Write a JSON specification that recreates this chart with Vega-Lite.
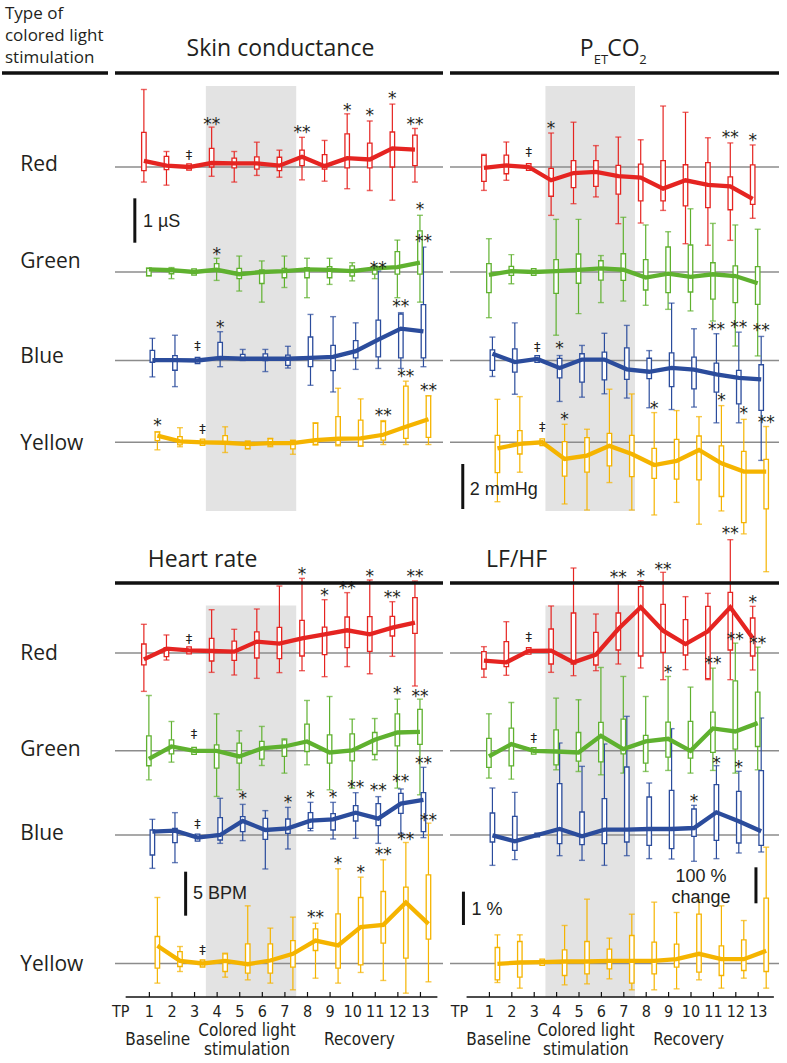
{
"$schema": "https://vega.github.io/schema/vega-lite/v6.json",
"padding": 0,
"background": "white",
"config": {"view": {"stroke": null}, "axis": {"grid": false}},
"datasets": {
"sc": [
{"s":"Red","tp":1,"lo":-0.34,"q1":-0.08,"q3":0.78,"hi":1.75,"m":0.14},
{"s":"Red","tp":2,"lo":-0.41,"q1":-0.06,"q3":0.24,"hi":0.35,"m":0.03},
{"s":"Red","tp":3,"lo":-0.07,"q1":-0.07,"q3":0.07,"hi":0.07,"m":0},
{"s":"Red","tp":4,"lo":-0.21,"q1":0,"q3":0.42,"hi":0.9,"m":0.09},
{"s":"Red","tp":5,"lo":-0.34,"q1":-0.02,"q3":0.2,"hi":0.35,"m":0.08},
{"s":"Red","tp":6,"lo":-0.19,"q1":-0.05,"q3":0.23,"hi":0.56,"m":0.08},
{"s":"Red","tp":7,"lo":-0.23,"q1":-0.08,"q3":0.22,"hi":0.38,"m":0.03},
{"s":"Red","tp":8,"lo":-0.29,"q1":0.03,"q3":0.38,"hi":0.67,"m":0.23},
{"s":"Red","tp":9,"lo":-0.32,"q1":-0.05,"q3":0.28,"hi":0.6,"m":0.02},
{"s":"Red","tp":10,"lo":-0.49,"q1":-0.02,"q3":0.75,"hi":1.2,"m":0.2},
{"s":"Red","tp":11,"lo":-0.53,"q1":-0.02,"q3":0.54,"hi":1.04,"m":0.17},
{"s":"Red","tp":12,"lo":-0.75,"q1":0,"q3":0.79,"hi":1.42,"m":0.42},
{"s":"Red","tp":13,"lo":-0.34,"q1":0.03,"q3":0.72,"hi":0.87,"m":0.39},
{"s":"Green","tp":1,"lo":-0.09,"q1":-0.08,"q3":0.08,"hi":0.09,"m":0.06},
{"s":"Green","tp":2,"lo":-0.15,"q1":-0.04,"q3":0.08,"hi":0.1,"m":0.04},
{"s":"Green","tp":3,"lo":-0.07,"q1":-0.07,"q3":0.07,"hi":0.07,"m":0},
{"s":"Green","tp":4,"lo":-0.19,"q1":0.05,"q3":0.19,"hi":0.31,"m":0.05},
{"s":"Green","tp":5,"lo":-0.43,"q1":-0.15,"q3":0.08,"hi":0.36,"m":-0.05},
{"s":"Green","tp":6,"lo":-0.68,"q1":-0.26,"q3":0.05,"hi":0.25,"m":0},
{"s":"Green","tp":7,"lo":-0.35,"q1":-0.13,"q3":0.08,"hi":0.36,"m":0.02},
{"s":"Green","tp":8,"lo":-0.58,"q1":-0.13,"q3":0.1,"hi":0.31,"m":0.06},
{"s":"Green","tp":9,"lo":-0.28,"q1":-0.13,"q3":0.12,"hi":0.31,"m":0.05},
{"s":"Green","tp":10,"lo":-0.2,"q1":-0.09,"q3":0.14,"hi":0.21,"m":0.02},
{"s":"Green","tp":11,"lo":-0.15,"q1":-0.05,"q3":0.05,"hi":0.14,"m":0.08},
{"s":"Green","tp":12,"lo":-0.58,"q1":-0.05,"q3":0.46,"hi":0.72,"m":0.11},
{"s":"Green","tp":13,"lo":-0.68,"q1":-0.05,"q3":0.93,"hi":1.28,"m":0.21},
{"s":"Blue","tp":1,"lo":-0.37,"q1":-0.04,"q3":0.23,"hi":0.5,"m":0.01},
{"s":"Blue","tp":2,"lo":-0.59,"q1":-0.22,"q3":0.11,"hi":0.57,"m":0.01},
{"s":"Blue","tp":3,"lo":-0.07,"q1":-0.07,"q3":0.07,"hi":0.07,"m":0},
{"s":"Blue","tp":4,"lo":-0.14,"q1":0.02,"q3":0.41,"hi":0.65,"m":0.06},
{"s":"Blue","tp":5,"lo":0,"q1":0.02,"q3":0.14,"hi":0.25,"m":0.04},
{"s":"Blue","tp":6,"lo":-0.25,"q1":0,"q3":0.15,"hi":0.25,"m":0.04},
{"s":"Blue","tp":7,"lo":-0.17,"q1":-0.11,"q3":0.12,"hi":0.32,"m":0.04},
{"s":"Blue","tp":8,"lo":-0.56,"q1":-0.14,"q3":0.53,"hi":1.04,"m":0.06},
{"s":"Blue","tp":9,"lo":-0.71,"q1":-0.23,"q3":0.34,"hi":0.99,"m":0.08},
{"s":"Blue","tp":10,"lo":-0.2,"q1":0.06,"q3":0.45,"hi":0.85,"m":0.21},
{"s":"Blue","tp":11,"lo":-0.18,"q1":0.08,"q3":0.91,"hi":2.02,"m":0.47},
{"s":"Blue","tp":12,"lo":-0.18,"q1":0.06,"q3":1.05,"hi":1.08,"m":0.72},
{"s":"Blue","tp":13,"lo":-0.14,"q1":0.06,"q3":1.26,"hi":2.56,"m":0.66},
{"s":"Yellow","tp":1,"lo":-0.17,"q1":0.04,"q3":0.23,"hi":0.24,"m":0.15},
{"s":"Yellow","tp":2,"lo":-0.1,"q1":-0.06,"q3":0.13,"hi":0.33,"m":0.02},
{"s":"Yellow","tp":3,"lo":-0.07,"q1":-0.07,"q3":0.07,"hi":0.07,"m":0},
{"s":"Yellow","tp":4,"lo":-0.23,"q1":-0.04,"q3":0.15,"hi":0.35,"m":-0.01},
{"s":"Yellow","tp":5,"lo":-0.15,"q1":-0.14,"q3":0.02,"hi":0.03,"m":-0.04},
{"s":"Yellow","tp":6,"lo":-0.1,"q1":-0.08,"q3":0.08,"hi":0.09,"m":-0.02},
{"s":"Yellow","tp":7,"lo":-0.27,"q1":-0.15,"q3":0.04,"hi":0.05,"m":-0.02},
{"s":"Yellow","tp":8,"lo":-0.06,"q1":-0.05,"q3":0.43,"hi":0.44,"m":0.05},
{"s":"Yellow","tp":9,"lo":-0.08,"q1":-0.06,"q3":0.58,"hi":1.22,"m":0.08},
{"s":"Yellow","tp":10,"lo":-0.09,"q1":-0.08,"q3":0.5,"hi":0.98,"m":0.09},
{"s":"Yellow","tp":11,"lo":-0.05,"q1":0.05,"q3":0.47,"hi":0.49,"m":0.17},
{"s":"Yellow","tp":12,"lo":-0.05,"q1":0.09,"q3":1.27,"hi":1.38,"m":0.35},
{"s":"Yellow","tp":13,"lo":-0.05,"q1":0.11,"q3":1.05,"hi":1.05,"m":0.52}
],
"scA": [
{"s":"Red","tp":3,"t":"‡","y":0.26},
{"s":"Red","tp":4,"t":"**","y":1.05},
{"s":"Red","tp":8,"t":"**","y":0.87},
{"s":"Red","tp":10,"t":"*","y":1.37},
{"s":"Red","tp":11,"t":"*","y":1.26},
{"s":"Red","tp":12,"t":"*","y":1.63},
{"s":"Red","tp":13,"t":"**","y":1.04},
{"s":"Green","tp":4,"t":"*","y":0.49},
{"s":"Green","tp":13,"t":"*","y":1.49},
{"s":"Blue","tp":3,"t":"‡","y":0.32},
{"s":"Blue","tp":4,"t":"*","y":0.83},
{"s":"Blue","tp":11,"t":"**","y":2.17},
{"s":"Blue","tp":12,"t":"**","y":1.32},
{"s":"Blue","tp":13,"t":"**","y":2.77},
{"s":"Yellow","tp":1,"t":"*","y":0.48},
{"s":"Yellow","tp":3,"t":"‡","y":0.29},
{"s":"Yellow","tp":11,"t":"**","y":0.69},
{"s":"Yellow","tp":12,"t":"**","y":1.57},
{"s":"Yellow","tp":13,"t":"**","y":1.27}
],
"pet": [
{"s":"Red","tp":1,"lo":-1.04,"q1":-0.64,"q3":0.52,"hi":0.56,"m":-0.04},
{"s":"Red","tp":2,"lo":-0.59,"q1":-0.3,"q3":0.53,"hi":1.11,"m":0.07},
{"s":"Red","tp":3,"lo":-0.15,"q1":-0.15,"q3":0.15,"hi":0.15,"m":0},
{"s":"Red","tp":4,"lo":-2.15,"q1":-1.3,"q3":-0.06,"hi":1.51,"m":-0.59},
{"s":"Red","tp":5,"lo":-1.63,"q1":-0.92,"q3":0.28,"hi":1.99,"m":-0.27},
{"s":"Red","tp":6,"lo":-1.33,"q1":-0.86,"q3":0.28,"hi":0.95,"m":-0.22},
{"s":"Red","tp":7,"lo":-2.52,"q1":-1.21,"q3":0.07,"hi":1.33,"m":-0.41},
{"s":"Red","tp":8,"lo":-2.49,"q1":-1.51,"q3":0.13,"hi":1.21,"m":-0.47},
{"s":"Red","tp":9,"lo":-1.93,"q1":-1.51,"q3":0.28,"hi":2.71,"m":-0.96},
{"s":"Red","tp":10,"lo":-3.41,"q1":-1.73,"q3":0.1,"hi":2.43,"m":-0.59},
{"s":"Red","tp":11,"lo":-3.48,"q1":-1.81,"q3":0.19,"hi":1.3,"m":-0.79},
{"s":"Red","tp":12,"lo":-3.26,"q1":-1.9,"q3":-0.44,"hi":1.07,"m":-0.86},
{"s":"Red","tp":13,"lo":-2.28,"q1":-1.66,"q3":0.09,"hi":0.98,"m":-1.42},
{"s":"Green","tp":1,"lo":-2.03,"q1":-0.92,"q3":0.37,"hi":1.48,"m":-0.13},
{"s":"Green","tp":2,"lo":-0.52,"q1":-0.15,"q3":0.25,"hi":0.77,"m":0.04},
{"s":"Green","tp":3,"lo":-0.15,"q1":-0.15,"q3":0.15,"hi":0.15,"m":0},
{"s":"Green","tp":4,"lo":-2.81,"q1":-0.95,"q3":0.55,"hi":2.34,"m":0.04},
{"s":"Green","tp":5,"lo":-1.85,"q1":-0.5,"q3":0.8,"hi":2.34,"m":0.09},
{"s":"Green","tp":6,"lo":-1.36,"q1":-0.36,"q3":0.5,"hi":0.73,"m":0.16},
{"s":"Green","tp":7,"lo":-1.29,"q1":-0.37,"q3":0.81,"hi":2.43,"m":0.1},
{"s":"Green","tp":8,"lo":-1.48,"q1":-0.8,"q3":0.55,"hi":2.09,"m":-0.25},
{"s":"Green","tp":9,"lo":-1.66,"q1":-0.92,"q3":1.11,"hi":1.79,"m":-0.07},
{"s":"Green","tp":10,"lo":-1.73,"q1":-0.89,"q3":1.2,"hi":2.81,"m":-0.22},
{"s":"Green","tp":11,"lo":-2.18,"q1":-1.21,"q3":0.41,"hi":2.16,"m":-0.1},
{"s":"Green","tp":12,"lo":-3.29,"q1":-1.36,"q3":0.27,"hi":2.09,"m":-0.18},
{"s":"Green","tp":13,"lo":-3.73,"q1":-1.44,"q3":0.24,"hi":1.9,"m":-0.5},
{"s":"Blue","tp":1,"lo":-0.71,"q1":-0.44,"q3":0.47,"hi":1.04,"m":0.3},
{"s":"Blue","tp":2,"lo":-1.5,"q1":-0.52,"q3":0.52,"hi":1.67,"m":-0.07},
{"s":"Blue","tp":3,"lo":-0.08,"q1":-0.08,"q3":0.22,"hi":0.22,"m":0.07},
{"s":"Blue","tp":4,"lo":-1.82,"q1":-0.77,"q3":0.09,"hi":0.22,"m":-0.33},
{"s":"Blue","tp":5,"lo":-1.63,"q1":-0.96,"q3":0.3,"hi":0.67,"m":0.04},
{"s":"Blue","tp":6,"lo":-1.48,"q1":-0.86,"q3":0.37,"hi":1.21,"m":0.04},
{"s":"Blue","tp":7,"lo":-1.67,"q1":-0.84,"q3":0.56,"hi":1.56,"m":-0.39},
{"s":"Blue","tp":8,"lo":-2.1,"q1":-0.81,"q3":0.1,"hi":0.44,"m":-0.5},
{"s":"Blue","tp":9,"lo":-2.18,"q1":-1.16,"q3":0.34,"hi":2.55,"m":-0.33},
{"s":"Blue","tp":10,"lo":-2.07,"q1":-1.26,"q3":0.15,"hi":1.41,"m":-0.41},
{"s":"Blue","tp":11,"lo":-2.77,"q1":-1.41,"q3":-0.12,"hi":1.19,"m":-0.62},
{"s":"Blue","tp":12,"lo":-2.77,"q1":-1.93,"q3":-0.44,"hi":1.26,"m":-0.77},
{"s":"Blue","tp":13,"lo":-4.44,"q1":-2.22,"q3":-0.19,"hi":1.07,"m":-0.84},
{"s":"Yellow","tp":1,"lo":-2.64,"q1":-1.35,"q3":0.31,"hi":1.91,"m":-0.27},
{"s":"Yellow","tp":2,"lo":-1.33,"q1":-0.52,"q3":0.52,"hi":2.03,"m":-0.07},
{"s":"Yellow","tp":3,"lo":-0.15,"q1":-0.15,"q3":0.15,"hi":0.15,"m":0},
{"s":"Yellow","tp":4,"lo":-2.74,"q1":-1.5,"q3":0.03,"hi":0.8,"m":-0.74},
{"s":"Yellow","tp":5,"lo":-3.01,"q1":-1.33,"q3":0.21,"hi":0.58,"m":-0.59},
{"s":"Yellow","tp":6,"lo":-1.79,"q1":-1.05,"q3":0.4,"hi":2.36,"m":-0.16},
{"s":"Yellow","tp":7,"lo":-3.01,"q1":-1.53,"q3":0.31,"hi":2.15,"m":-0.52},
{"s":"Yellow","tp":8,"lo":-3.23,"q1":-1.6,"q3":-0.27,"hi":1.32,"m":-1.01},
{"s":"Yellow","tp":9,"lo":-2.67,"q1":-1.64,"q3":0.13,"hi":1.41,"m":-0.83},
{"s":"Yellow","tp":10,"lo":-3.64,"q1":-1.67,"q3":0.28,"hi":1.14,"m":-0.34},
{"s":"Yellow","tp":11,"lo":-3.05,"q1":-2.41,"q3":-0.16,"hi":1.63,"m":-0.93},
{"s":"Yellow","tp":12,"lo":-4.07,"q1":-3.57,"q3":-0.4,"hi":1.02,"m":-1.3},
{"s":"Yellow","tp":13,"lo":-5.75,"q1":-2.96,"q3":-0.76,"hi":0.7,"m":-1.3}
],
"petA": [
{"s":"Red","tp":3,"t":"‡","y":0.67},
{"s":"Red","tp":4,"t":"*","y":1.88},
{"s":"Red","tp":12,"t":"**","y":1.48},
{"s":"Red","tp":13,"t":"*","y":1.36},
{"s":"Blue","tp":3,"t":"‡","y":0.59},
{"s":"Blue","tp":4,"t":"*","y":0.7},
{"s":"Blue","tp":11,"t":"**","y":1.56},
{"s":"Blue","tp":12,"t":"**","y":1.63},
{"s":"Blue","tp":13,"t":"**","y":1.51},
{"s":"Yellow","tp":3,"t":"‡","y":0.7},
{"s":"Yellow","tp":4,"t":"*","y":1.21},
{"s":"Yellow","tp":8,"t":"*","y":1.69},
{"s":"Yellow","tp":11,"t":"*","y":2.03},
{"s":"Yellow","tp":12,"t":"*","y":1.47},
{"s":"Yellow","tp":13,"t":"**","y":1.07}
],
"hr": [
{"s":"Red","tp":1,"lo":-4.36,"q1":-1.36,"q3":1.02,"hi":3.26,"m":-0.72},
{"s":"Red","tp":2,"lo":-0.8,"q1":-0.42,"q3":0.61,"hi":2.05,"m":0.49},
{"s":"Red","tp":3,"lo":-0.1,"q1":-0.1,"q3":0.7,"hi":0.7,"m":0.3},
{"s":"Red","tp":4,"lo":-2.2,"q1":-0.91,"q3":1.67,"hi":4.92,"m":0.23},
{"s":"Red","tp":5,"lo":-2.5,"q1":-0.83,"q3":1.36,"hi":2.69,"m":0.15},
{"s":"Red","tp":6,"lo":-2.88,"q1":-0.57,"q3":2.39,"hi":5.0,"m":1.29},
{"s":"Red","tp":7,"lo":-2.23,"q1":-0.64,"q3":2.92,"hi":7.61,"m":1.06},
{"s":"Red","tp":8,"lo":-2.01,"q1":-0.34,"q3":3.71,"hi":8.48,"m":1.67},
{"s":"Red","tp":9,"lo":-2.69,"q1":-0.19,"q3":2.95,"hi":6.06,"m":2.12},
{"s":"Red","tp":10,"lo":-1.55,"q1":0.61,"q3":4.09,"hi":6.86,"m":2.58},
{"s":"Red","tp":11,"lo":-2.35,"q1":0.19,"q3":4.13,"hi":8.3,"m":2.12},
{"s":"Red","tp":12,"lo":-0.38,"q1":1.93,"q3":4.17,"hi":5.83,"m":2.88},
{"s":"Red","tp":13,"lo":-3.75,"q1":2.23,"q3":6.29,"hi":8.18,"m":3.45},
{"s":"Green","tp":1,"lo":-3.3,"q1":-1.7,"q3":1.7,"hi":6.29,"m":-0.91},
{"s":"Green","tp":2,"lo":-1.29,"q1":-0.34,"q3":1.25,"hi":3.33,"m":0.49},
{"s":"Green","tp":3,"lo":-0.4,"q1":-0.4,"q3":0.4,"hi":0.4,"m":0},
{"s":"Green","tp":4,"lo":-5.19,"q1":-1.97,"q3":0.68,"hi":4.2,"m":0},
{"s":"Green","tp":5,"lo":-4.43,"q1":-1.4,"q3":0.87,"hi":2.27,"m":-0.64},
{"s":"Green","tp":6,"lo":-1.67,"q1":-0.95,"q3":1.06,"hi":2.77,"m":0.27},
{"s":"Green","tp":7,"lo":-2.54,"q1":-0.64,"q3":1.25,"hi":1.36,"m":0.49},
{"s":"Green","tp":8,"lo":-1.59,"q1":-0.08,"q3":3.03,"hi":5.72,"m":1.06},
{"s":"Green","tp":9,"lo":-4.43,"q1":-1.4,"q3":1.82,"hi":6.17,"m":-0.19},
{"s":"Green","tp":10,"lo":-4.24,"q1":-1.14,"q3":1.93,"hi":3.6,"m":0.04},
{"s":"Green","tp":11,"lo":-1.02,"q1":-0.42,"q3":2.08,"hi":3.67,"m":1.25},
{"s":"Green","tp":12,"lo":-4.24,"q1":0.57,"q3":4.2,"hi":5.87,"m":2.08},
{"s":"Green","tp":13,"lo":-5.0,"q1":0.72,"q3":4.7,"hi":5.87,"m":2.16},
{"s":"Blue","tp":1,"lo":-3.79,"q1":-2.27,"q3":0.57,"hi":1.78,"m":0.38},
{"s":"Blue","tp":2,"lo":-3.14,"q1":-0.87,"q3":0.76,"hi":2.54,"m":0.49},
{"s":"Blue","tp":3,"lo":-0.7,"q1":-0.7,"q3":0.1,"hi":0.1,"m":-0.3},
{"s":"Blue","tp":4,"lo":-0.95,"q1":-0.57,"q3":1.97,"hi":4.17,"m":0},
{"s":"Blue","tp":5,"lo":-0.64,"q1":0.38,"q3":2.08,"hi":3.48,"m":1.59},
{"s":"Blue","tp":6,"lo":-3.86,"q1":-0.49,"q3":1.89,"hi":2.77,"m":0.57},
{"s":"Blue","tp":7,"lo":-1.59,"q1":0.19,"q3":1.82,"hi":3.14,"m":0.76},
{"s":"Blue","tp":8,"lo":0.49,"q1":0.76,"q3":2.54,"hi":3.71,"m":1.63},
{"s":"Blue","tp":9,"lo":-0.45,"q1":0.57,"q3":2.42,"hi":3.71,"m":1.78},
{"s":"Blue","tp":10,"lo":-0.38,"q1":1.59,"q3":3.33,"hi":4.81,"m":2.54},
{"s":"Blue","tp":11,"lo":-0.95,"q1":1.06,"q3":3.56,"hi":4.36,"m":1.86},
{"s":"Blue","tp":12,"lo":0.19,"q1":2.46,"q3":4.73,"hi":5.23,"m":3.56},
{"s":"Blue","tp":13,"lo":-0.3,"q1":0.38,"q3":4.81,"hi":7.69,"m":3.98},
{"s":"Yellow","tp":1,"lo":-2.23,"q1":-0.53,"q3":3.07,"hi":7.5,"m":2.01},
{"s":"Yellow","tp":2,"lo":-0.91,"q1":-0.34,"q3":1.36,"hi":1.93,"m":0.3},
{"s":"Yellow","tp":3,"lo":-0.4,"q1":-0.4,"q3":0.4,"hi":0.4,"m":0},
{"s":"Yellow","tp":4,"lo":-1.55,"q1":-0.91,"q3":1.1,"hi":1.17,"m":0.3},
{"s":"Yellow","tp":5,"lo":-1.86,"q1":-1.1,"q3":2.23,"hi":6.55,"m":-0.08},
{"s":"Yellow","tp":6,"lo":-2.23,"q1":-1.1,"q3":2.23,"hi":4.02,"m":0.34},
{"s":"Yellow","tp":7,"lo":-2.99,"q1":-0.42,"q3":2.61,"hi":5.27,"m":1.1},
{"s":"Yellow","tp":8,"lo":-1.67,"q1":1.48,"q3":3.94,"hi":4.58,"m":2.61},
{"s":"Yellow","tp":9,"lo":-2.23,"q1":-0.53,"q3":5.64,"hi":10.76,"m":2.05},
{"s":"Yellow","tp":10,"lo":-1.02,"q1":-0.15,"q3":7.5,"hi":9.81,"m":4.13},
{"s":"Yellow","tp":11,"lo":-1.93,"q1":2.31,"q3":8.18,"hi":11.78,"m":4.39},
{"s":"Yellow","tp":12,"lo":-3.37,"q1":0.61,"q3":8.67,"hi":13.75,"m":6.93},
{"s":"Yellow","tp":13,"lo":-2.08,"q1":2.77,"q3":10.08,"hi":15.95,"m":4.51}
],
"hrA": [
{"s":"Red","tp":3,"t":"‡","y":1.55},
{"s":"Red","tp":8,"t":"*","y":9.43},
{"s":"Red","tp":9,"t":"*","y":6.97},
{"s":"Red","tp":10,"t":"**","y":7.8},
{"s":"Red","tp":11,"t":"*","y":9.2},
{"s":"Red","tp":12,"t":"**","y":6.74},
{"s":"Red","tp":13,"t":"**","y":9.2},
{"s":"Green","tp":3,"t":"‡","y":1.93},
{"s":"Green","tp":12,"t":"*","y":6.93},
{"s":"Green","tp":13,"t":"**","y":6.67},
{"s":"Blue","tp":3,"t":"‡","y":1.21},
{"s":"Blue","tp":5,"t":"*","y":4.55},
{"s":"Blue","tp":7,"t":"*","y":4.17},
{"s":"Blue","tp":8,"t":"*","y":4.66},
{"s":"Blue","tp":9,"t":"*","y":4.66},
{"s":"Blue","tp":10,"t":"**","y":5.8},
{"s":"Blue","tp":11,"t":"**","y":5.49},
{"s":"Blue","tp":12,"t":"**","y":6.55},
{"s":"Blue","tp":13,"t":"**","y":8.6},
{"s":"Yellow","tp":3,"t":"‡","y":1.55},
{"s":"Yellow","tp":8,"t":"**","y":5.64},
{"s":"Yellow","tp":9,"t":"*","y":11.86},
{"s":"Yellow","tp":10,"t":"*","y":10.76},
{"s":"Yellow","tp":11,"t":"**","y":12.8},
{"s":"Yellow","tp":12,"t":"**","y":14.55},
{"s":"Yellow","tp":13,"t":"**","y":16.7}
],
"lf": [
{"s":"Red","tp":1,"lo":-67.6,"q1":-44.4,"q3":3.7,"hi":17.6,"m":-21.3},
{"s":"Red","tp":2,"lo":-62,"q1":-38,"q3":31.5,"hi":87,"m":-25.9},
{"s":"Red","tp":3,"lo":-3,"q1":-3,"q3":15,"hi":15,"m":6},
{"s":"Red","tp":4,"lo":-53.7,"q1":-30.6,"q3":66.7,"hi":130.6,"m":6.5},
{"s":"Red","tp":5,"lo":-63,"q1":-30.6,"q3":111.1,"hi":236.1,"m":-25.9},
{"s":"Red","tp":6,"lo":-49.1,"q1":-33.3,"q3":57.4,"hi":108.3,"m":-4.6},
{"s":"Red","tp":7,"lo":-30.6,"q1":8.3,"q3":111.1,"hi":196.3,"m":66.7},
{"s":"Red","tp":8,"lo":-41.7,"q1":-8.3,"q3":184.3,"hi":200.9,"m":126.9},
{"s":"Red","tp":9,"lo":-74.1,"q1":1.9,"q3":135.2,"hi":224.1,"m":62},
{"s":"Red","tp":10,"lo":-46.3,"q1":-5.6,"q3":92.6,"hi":156.5,"m":25},
{"s":"Red","tp":11,"lo":-74.1,"q1":-71.3,"q3":129.6,"hi":165.7,"m":60.2},
{"s":"Red","tp":12,"lo":-74.1,"q1":8.3,"q3":168.5,"hi":314.8,"m":126.9},
{"s":"Red","tp":13,"lo":-47.2,"q1":-8.3,"q3":97.2,"hi":129.6,"m":41.7},
{"s":"Green","tp":1,"lo":-75.9,"q1":-46.3,"q3":34.3,"hi":102.8,"m":-15.7},
{"s":"Green","tp":2,"lo":-78.7,"q1":-41.7,"q3":63,"hi":134.3,"m":18.5},
{"s":"Green","tp":3,"lo":-9,"q1":-9,"q3":9,"hi":9,"m":0},
{"s":"Green","tp":4,"lo":-52.8,"q1":-38.9,"q3":58.3,"hi":146.3,"m":-1.9},
{"s":"Green","tp":5,"lo":-57.4,"q1":-28.7,"q3":50.9,"hi":141.7,"m":-4.6},
{"s":"Green","tp":6,"lo":-66.7,"q1":-30.6,"q3":78.7,"hi":231.5,"m":41.7},
{"s":"Green","tp":7,"lo":-62,"q1":-8.3,"q3":88,"hi":206.5,"m":4.6},
{"s":"Green","tp":8,"lo":-57.4,"q1":-34.3,"q3":42.6,"hi":150.9,"m":25.9},
{"s":"Green","tp":9,"lo":-54.6,"q1":-17.6,"q3":79.6,"hi":206.5,"m":33.3},
{"s":"Green","tp":10,"lo":-62,"q1":-20.4,"q3":81.5,"hi":176.9,"m":0},
{"s":"Green","tp":11,"lo":-54.6,"q1":-4.6,"q3":107.4,"hi":229.6,"m":62},
{"s":"Green","tp":12,"lo":-62,"q1":4.6,"q3":194.4,"hi":299.1,"m":53.7},
{"s":"Green","tp":13,"lo":-52.8,"q1":12,"q3":163,"hi":288,"m":76.9},
{"s":"Blue","tp":1,"lo":-84.3,"q1":-19.4,"q3":61.1,"hi":130.6,"m":-0.9},
{"s":"Blue","tp":2,"lo":-68.5,"q1":-42.6,"q3":51.9,"hi":118.5,"m":-17.6},
{"s":"Blue","tp":3,"lo":-5,"q1":-5,"q3":5,"hi":5,"m":0},
{"s":"Blue","tp":4,"lo":-57.4,"q1":-24.1,"q3":142.6,"hi":255.6,"m":16.7},
{"s":"Blue","tp":5,"lo":-70.4,"q1":-26.9,"q3":63.9,"hi":190.7,"m":-3.7},
{"s":"Blue","tp":6,"lo":-84.3,"q1":-24.1,"q3":100.9,"hi":252.8,"m":14.8},
{"s":"Blue","tp":7,"lo":-57.4,"q1":-19.4,"q3":188.9,"hi":329.6,"m":14.8},
{"s":"Blue","tp":8,"lo":-65.7,"q1":-28.7,"q3":105.6,"hi":144.4,"m":16.7},
{"s":"Blue","tp":9,"lo":-66.7,"q1":-38,"q3":124.1,"hi":295.4,"m":16.7},
{"s":"Blue","tp":10,"lo":-73.1,"q1":-3.7,"q3":72.2,"hi":82.4,"m":19.4},
{"s":"Blue","tp":11,"lo":-65.7,"q1":-14.8,"q3":139.8,"hi":192.6,"m":63},
{"s":"Blue","tp":12,"lo":-50,"q1":-22.2,"q3":121.3,"hi":176.9,"m":38},
{"s":"Blue","tp":13,"lo":-47.2,"q1":-28.7,"q3":178.7,"hi":325,"m":10.2},
{"s":"Yellow","tp":1,"lo":-52.8,"q1":-45.4,"q3":44.4,"hi":79.6,"m":-0.9},
{"s":"Yellow","tp":2,"lo":-68.5,"q1":-38,"q3":61.1,"hi":79.6,"m":2.8},
{"s":"Yellow","tp":3,"lo":-5,"q1":-5,"q3":12,"hi":12,"m":3.7},
{"s":"Yellow","tp":4,"lo":-59.3,"q1":-33.3,"q3":38,"hi":105.6,"m":5.6},
{"s":"Yellow","tp":5,"lo":-56.5,"q1":-28.7,"q3":61.1,"hi":178.7,"m":5.6},
{"s":"Yellow","tp":6,"lo":-42.6,"q1":-14.8,"q3":39.8,"hi":70.4,"m":7.4},
{"s":"Yellow","tp":7,"lo":-73.1,"q1":-54.6,"q3":77.8,"hi":137,"m":7.4},
{"s":"Yellow","tp":8,"lo":-73.1,"q1":-28.7,"q3":59.3,"hi":170.4,"m":7.4},
{"s":"Yellow","tp":9,"lo":-70.4,"q1":-10.2,"q3":53.7,"hi":141.7,"m":12},
{"s":"Yellow","tp":10,"lo":-45.4,"q1":-24.1,"q3":137,"hi":176.9,"m":26.9},
{"s":"Yellow","tp":11,"lo":-68.5,"q1":-33.3,"q3":49.1,"hi":160.2,"m":12},
{"s":"Yellow","tp":12,"lo":-40.7,"q1":-19.4,"q3":65.7,"hi":119.4,"m":12},
{"s":"Yellow","tp":13,"lo":-68.5,"q1":-22.2,"q3":181.5,"hi":323.1,"m":35.2}
],
"lfA": [
{"s":"Red","tp":3,"t":"‡","y":45.4},
{"s":"Red","tp":7,"t":"**","y":221.3},
{"s":"Red","tp":8,"t":"*","y":224.1},
{"s":"Red","tp":9,"t":"**","y":244.4},
{"s":"Red","tp":12,"t":"**","y":342.6},
{"s":"Red","tp":13,"t":"*","y":151.9},
{"s":"Green","tp":3,"t":"‡","y":35.2},
{"s":"Green","tp":9,"t":"*","y":229.6},
{"s":"Green","tp":11,"t":"**","y":252.8},
{"s":"Green","tp":12,"t":"**","y":319.4},
{"s":"Green","tp":13,"t":"**","y":308.3},
{"s":"Blue","tp":10,"t":"*","y":102.8},
{"s":"Blue","tp":11,"t":"*","y":211.1},
{"s":"Blue","tp":12,"t":"*","y":198.1}
]
},
"columns": 3,
"bounds": "flush",
"spacing": {"row": 0, "column": 7},
"resolve": {"scale": {"x": "independent", "y": "independent"}},
"concat": [
{
"width": 106, "height": 540,
"layer": [
{"data": {"values": [{"t":"Red","y":-0.084},{"t":"Green","y":-2.287},{"t":"Blue","y":-4.418},{"t":"Yellow","y":-6.388}]},
 "mark": {"type": "text", "align": "left", "baseline": "alphabetic", "font": "Open Sans", "fontSize": 21, "color": "#231f20"},
 "encoding": {"x": {"datum": 0.173, "type": "quantitative", "scale": {"domain": [0, 1], "nice": false, "zero": false}, "axis": null},
  "y": {"field": "y", "type": "quantitative", "scale": {"domain": [-8.4198, 3.7698], "nice": false, "zero": false}, "axis": null},
  "text": {"field": "t"}}},
{"data": {"values": [{}]},
 "mark": {"type": "text", "align": "left", "baseline": "middle", "lineBreak": "\n", "lineHeight": 22, "font": "Open Sans", "fontSize": 17, "color": "#231f20"},
 "encoding": {"x": {"datum": 0.028, "type": "quantitative", "axis": null}, "y": {"datum": 3.454, "type": "quantitative", "axis": null},
  "text": {"value": "Type of\ncolored light\nstimulation"}}},
{"data": {"values": [{}]},
 "mark": {"type": "rule", "color": "#111", "strokeWidth": 3.5},
 "encoding": {"y": {"datum": 2.122, "type": "quantitative", "axis": null}}}
]
},
{
"width": 328, "height": 540,
"layer": [
{"data": {"values": [{}]}, "mark": {"type": "rect", "color": "#e3e3e3"},
 "encoding": {"x": {"datum": 3.5, "type": "quantitative", "scale": {"domain": [-0.3004, 13.777], "nice": false, "zero": false}, "axis": null}, "x2": {"datum": 7.5},
  "y": {"datum": 1.828, "type": "quantitative", "scale": {"domain": [-8.4198, 3.7698], "nice": false, "zero": false}, "axis": null}, "y2": {"datum": -7.765}}},
{"data": {"values": [{"s":"Red"},{"s":"Green"},{"s":"Blue"},{"s":"Yellow"}]},
 "mark": {"type": "rule", "color": "#8c8c8c", "strokeWidth": 1.6, "yOffset": {"expr": "datum.s=='Green'?105:datum.s=='Blue'?193.5:datum.s=='Yellow'?275.3:0"}},
 "encoding": {"y": {"datum": 0, "type": "quantitative", "axis": null}}},
{"data": {"name": "sc"}, "transform": [{"filter": "datum.tp != 3"}],
 "mark": {"type": "rule", "strokeWidth": 1.2, "xOffset": {"expr": "datum.s=='Red'?-5.5:datum.s=='Green'?-0.5:datum.s=='Blue'?3:datum.s=='Yellow'?8:0"}, "yOffset": {"expr": "datum.s=='Green'?105:datum.s=='Blue'?193.5:datum.s=='Yellow'?275.3:0"}, "y2Offset": {"expr": "datum.s=='Green'?105:datum.s=='Blue'?193.5:datum.s=='Yellow'?275.3:0"}},
 "encoding": {"x": {"field": "tp", "type": "quantitative", "axis": null}, "y": {"field": "lo", "type": "quantitative", "axis": null}, "y2": {"field": "hi"},
  "color": {"field": "s", "type": "nominal", "scale": {"domain": ["Red","Green","Blue","Yellow"], "range": ["#e52421","#5fb12f","#2b4c9c","#f5b400"]}, "legend": null}}},
{"data": {"name": "sc"}, "transform": [{"filter": "datum.tp != 3"}],
 "mark": {"type": "tick", "orient": "horizontal", "size": 6, "thickness": 1.4, "xOffset": {"expr": "datum.s=='Red'?-5.5:datum.s=='Green'?-0.5:datum.s=='Blue'?3:datum.s=='Yellow'?8:0"}, "yOffset": {"expr": "datum.s=='Green'?105:datum.s=='Blue'?193.5:datum.s=='Yellow'?275.3:0"}},
 "encoding": {"x": {"field": "tp", "type": "quantitative", "axis": null}, "y": {"field": "lo", "type": "quantitative", "axis": null},
  "color": {"field": "s", "type": "nominal", "scale": {"domain": ["Red","Green","Blue","Yellow"], "range": ["#e52421","#5fb12f","#2b4c9c","#f5b400"]}, "legend": null}}},
{"data": {"name": "sc"}, "transform": [{"filter": "datum.tp != 3"}],
 "mark": {"type": "tick", "orient": "horizontal", "size": 6, "thickness": 1.4, "xOffset": {"expr": "datum.s=='Red'?-5.5:datum.s=='Green'?-0.5:datum.s=='Blue'?3:datum.s=='Yellow'?8:0"}, "yOffset": {"expr": "datum.s=='Green'?105:datum.s=='Blue'?193.5:datum.s=='Yellow'?275.3:0"}},
 "encoding": {"x": {"field": "tp", "type": "quantitative", "axis": null}, "y": {"field": "hi", "type": "quantitative", "axis": null},
  "color": {"field": "s", "type": "nominal", "scale": {"domain": ["Red","Green","Blue","Yellow"], "range": ["#e52421","#5fb12f","#2b4c9c","#f5b400"]}, "legend": null}}},
{"data": {"name": "sc"},
 "mark": {"type": "bar", "size": 4.5, "fill": "white", "strokeWidth": 1.3, "xOffset": {"expr": "datum.s=='Red'?-5.5:datum.s=='Green'?-0.5:datum.s=='Blue'?3:datum.s=='Yellow'?8:0"}, "yOffset": {"expr": "datum.s=='Green'?105:datum.s=='Blue'?193.5:datum.s=='Yellow'?275.3:0"}, "y2Offset": {"expr": "datum.s=='Green'?105:datum.s=='Blue'?193.5:datum.s=='Yellow'?275.3:0"}},
 "encoding": {"x": {"field": "tp", "type": "quantitative", "axis": null}, "y": {"field": "q1", "type": "quantitative", "axis": null}, "y2": {"field": "q3"},
  "stroke": {"field": "s", "type": "nominal", "scale": {"domain": ["Red","Green","Blue","Yellow"], "range": ["#e52421","#5fb12f","#2b4c9c","#f5b400"]}, "legend": null}}},
{"data": {"name": "sc"},
 "mark": {"type": "line", "strokeWidth": 4.3, "xOffset": {"expr": "datum.s=='Red'?-5.5:datum.s=='Green'?-0.5:datum.s=='Blue'?3:datum.s=='Yellow'?8:0"}, "yOffset": {"expr": "datum.s=='Green'?105:datum.s=='Blue'?193.5:datum.s=='Yellow'?275.3:0"}},
 "encoding": {"x": {"field": "tp", "type": "quantitative", "axis": null}, "y": {"field": "m", "type": "quantitative", "axis": null},
  "color": {"field": "s", "type": "nominal", "scale": {"domain": ["Red","Green","Blue","Yellow"], "range": ["#e52421","#5fb12f","#2b4c9c","#f5b400"]}, "legend": null}}},
{"data": {"name": "scA"}, "transform": [{"filter": "datum.t != '‡'"}],
 "mark": {"type": "text", "font": "DejaVu Sans", "fontSize": 17, "baseline": "alphabetic", "dy": 9.5, "color": "#231f20", "xOffset": {"expr": "datum.s=='Red'?-5.5:datum.s=='Green'?-0.5:datum.s=='Blue'?3:datum.s=='Yellow'?8:0"}, "yOffset": {"expr": "datum.s=='Green'?105:datum.s=='Blue'?193.5:datum.s=='Yellow'?275.3:0"}},
 "encoding": {"x": {"field": "tp", "type": "quantitative", "axis": null}, "y": {"field": "y", "type": "quantitative", "axis": null}, "text": {"field": "t"}}},
{"data": {"name": "scA"}, "transform": [{"filter": "datum.t == '‡'"}],
 "mark": {"type": "text", "font": "DejaVu Sans", "fontSize": 13, "baseline": "middle", "color": "#231f20", "xOffset": {"expr": "datum.s=='Red'?-5.5:datum.s=='Green'?-0.5:datum.s=='Blue'?3:datum.s=='Yellow'?8:0"}, "yOffset": {"expr": "datum.s=='Green'?105:datum.s=='Blue'?193.5:datum.s=='Yellow'?275.3:0"}},
 "encoding": {"x": {"field": "tp", "type": "quantitative", "axis": null}, "y": {"field": "y", "type": "quantitative", "axis": null}, "text": {"field": "t"}}},
{"data": {"values": [{}]},
 "mark": {"type": "text", "align": "left", "baseline": "alphabetic", "font": "Open Sans", "fontSize": 23, "color": "#231f20"},
 "encoding": {"x": {"datum": 2.648, "type": "quantitative", "axis": null}, "y": {"datum": 2.506, "type": "quantitative", "axis": null}, "text": {"value": "Skin conductance"}}},
{"data": {"values": [{}]}, "mark": {"type": "rule", "color": "#111", "strokeWidth": 3.5},
 "encoding": {"y": {"datum": 2.122, "type": "quantitative", "axis": null}}},
{"data": {"values": [{}]}, "mark": {"type": "rule", "color": "#111", "strokeWidth": 3},
 "encoding": {"x": {"datum": 0.356, "type": "quantitative", "axis": null}, "y": {"datum": -0.707, "type": "quantitative", "axis": null}, "y2": {"datum": -1.709}}},
{"data": {"values": [{}]},
 "mark": {"type": "text", "align": "left", "baseline": "middle", "font": "Liberation Sans", "fontSize": 18, "color": "#231f20"},
 "encoding": {"x": {"datum": 0.717, "type": "quantitative", "axis": null}, "y": {"datum": -1.235, "type": "quantitative", "axis": null}, "text": {"value": "1 µS"}}}
]
},
{
"width": 329, "height": 540,
"layer": [
{"data": {"values": [{}]}, "mark": {"type": "rect", "color": "#e3e3e3"},
 "encoding": {"x": {"datum": 3.5, "type": "quantitative", "scale": {"domain": [-0.5368, 13.7056], "nice": false, "zero": false}, "axis": null}, "x2": {"datum": 7.5},
  "y": {"datum": 3.6, "type": "quantitative", "scale": {"domain": [-16.5778, 7.4222], "nice": false, "zero": false}, "axis": null}, "y2": {"datum": -15.289}}},
{"data": {"values": [{"s":"Red"},{"s":"Green"},{"s":"Blue"},{"s":"Yellow"}]},
 "mark": {"type": "rule", "color": "#8c8c8c", "strokeWidth": 1.6, "yOffset": {"expr": "datum.s=='Green'?105:datum.s=='Blue'?193.5:datum.s=='Yellow'?275.3:0"}},
 "encoding": {"y": {"datum": 0, "type": "quantitative", "axis": null}}},
{"data": {"name": "pet"}, "transform": [{"filter": "datum.tp != 3"}],
 "mark": {"type": "rule", "strokeWidth": 1.2, "xOffset": {"expr": "datum.s=='Red'?-5.5:datum.s=='Green'?-0.5:datum.s=='Blue'?3:datum.s=='Yellow'?8:0"}, "yOffset": {"expr": "datum.s=='Green'?105:datum.s=='Blue'?193.5:datum.s=='Yellow'?275.3:0"}, "y2Offset": {"expr": "datum.s=='Green'?105:datum.s=='Blue'?193.5:datum.s=='Yellow'?275.3:0"}},
 "encoding": {"x": {"field": "tp", "type": "quantitative", "axis": null}, "y": {"field": "lo", "type": "quantitative", "axis": null}, "y2": {"field": "hi"},
  "color": {"field": "s", "type": "nominal", "scale": {"domain": ["Red","Green","Blue","Yellow"], "range": ["#e52421","#5fb12f","#2b4c9c","#f5b400"]}, "legend": null}}},
{"data": {"name": "pet"}, "transform": [{"filter": "datum.tp != 3"}],
 "mark": {"type": "tick", "orient": "horizontal", "size": 6, "thickness": 1.4, "xOffset": {"expr": "datum.s=='Red'?-5.5:datum.s=='Green'?-0.5:datum.s=='Blue'?3:datum.s=='Yellow'?8:0"}, "yOffset": {"expr": "datum.s=='Green'?105:datum.s=='Blue'?193.5:datum.s=='Yellow'?275.3:0"}},
 "encoding": {"x": {"field": "tp", "type": "quantitative", "axis": null}, "y": {"field": "lo", "type": "quantitative", "axis": null},
  "color": {"field": "s", "type": "nominal", "scale": {"domain": ["Red","Green","Blue","Yellow"], "range": ["#e52421","#5fb12f","#2b4c9c","#f5b400"]}, "legend": null}}},
{"data": {"name": "pet"}, "transform": [{"filter": "datum.tp != 3"}],
 "mark": {"type": "tick", "orient": "horizontal", "size": 6, "thickness": 1.4, "xOffset": {"expr": "datum.s=='Red'?-5.5:datum.s=='Green'?-0.5:datum.s=='Blue'?3:datum.s=='Yellow'?8:0"}, "yOffset": {"expr": "datum.s=='Green'?105:datum.s=='Blue'?193.5:datum.s=='Yellow'?275.3:0"}},
 "encoding": {"x": {"field": "tp", "type": "quantitative", "axis": null}, "y": {"field": "hi", "type": "quantitative", "axis": null},
  "color": {"field": "s", "type": "nominal", "scale": {"domain": ["Red","Green","Blue","Yellow"], "range": ["#e52421","#5fb12f","#2b4c9c","#f5b400"]}, "legend": null}}},
{"data": {"name": "pet"},
 "mark": {"type": "bar", "size": 4.5, "fill": "white", "strokeWidth": 1.3, "xOffset": {"expr": "datum.s=='Red'?-5.5:datum.s=='Green'?-0.5:datum.s=='Blue'?3:datum.s=='Yellow'?8:0"}, "yOffset": {"expr": "datum.s=='Green'?105:datum.s=='Blue'?193.5:datum.s=='Yellow'?275.3:0"}, "y2Offset": {"expr": "datum.s=='Green'?105:datum.s=='Blue'?193.5:datum.s=='Yellow'?275.3:0"}},
 "encoding": {"x": {"field": "tp", "type": "quantitative", "axis": null}, "y": {"field": "q1", "type": "quantitative", "axis": null}, "y2": {"field": "q3"},
  "stroke": {"field": "s", "type": "nominal", "scale": {"domain": ["Red","Green","Blue","Yellow"], "range": ["#e52421","#5fb12f","#2b4c9c","#f5b400"]}, "legend": null}}},
{"data": {"name": "pet"},
 "mark": {"type": "line", "strokeWidth": 4.3, "xOffset": {"expr": "datum.s=='Red'?-5.5:datum.s=='Green'?-0.5:datum.s=='Blue'?3:datum.s=='Yellow'?8:0"}, "yOffset": {"expr": "datum.s=='Green'?105:datum.s=='Blue'?193.5:datum.s=='Yellow'?275.3:0"}},
 "encoding": {"x": {"field": "tp", "type": "quantitative", "axis": null}, "y": {"field": "m", "type": "quantitative", "axis": null},
  "color": {"field": "s", "type": "nominal", "scale": {"domain": ["Red","Green","Blue","Yellow"], "range": ["#e52421","#5fb12f","#2b4c9c","#f5b400"]}, "legend": null}}},
{"data": {"name": "petA"}, "transform": [{"filter": "datum.t != '‡'"}],
 "mark": {"type": "text", "font": "DejaVu Sans", "fontSize": 17, "baseline": "alphabetic", "dy": 9.5, "color": "#231f20", "xOffset": {"expr": "datum.s=='Red'?-5.5:datum.s=='Green'?-0.5:datum.s=='Blue'?3:datum.s=='Yellow'?8:0"}, "yOffset": {"expr": "datum.s=='Green'?105:datum.s=='Blue'?193.5:datum.s=='Yellow'?275.3:0"}},
 "encoding": {"x": {"field": "tp", "type": "quantitative", "axis": null}, "y": {"field": "y", "type": "quantitative", "axis": null}, "text": {"field": "t"}}},
{"data": {"name": "petA"}, "transform": [{"filter": "datum.t == '‡'"}],
 "mark": {"type": "text", "font": "DejaVu Sans", "fontSize": 13, "baseline": "middle", "color": "#231f20", "xOffset": {"expr": "datum.s=='Red'?-5.5:datum.s=='Green'?-0.5:datum.s=='Blue'?3:datum.s=='Yellow'?8:0"}, "yOffset": {"expr": "datum.s=='Green'?105:datum.s=='Blue'?193.5:datum.s=='Yellow'?275.3:0"}},
 "encoding": {"x": {"field": "tp", "type": "quantitative", "axis": null}, "y": {"field": "y", "type": "quantitative", "axis": null}, "text": {"field": "t"}}},
{"data": {"values": [{"t": "P", "x": 5.035}, {"t": "CO", "x": 6.26}]},
 "mark": {"type": "text", "align": "left", "baseline": "alphabetic", "font": "Open Sans", "fontSize": 23, "color": "#231f20"},
 "encoding": {"x": {"field": "x", "type": "quantitative", "axis": null}, "y": {"datum": 4.933, "type": "quantitative", "axis": null}, "text": {"field": "t"}}},
{"data": {"values": [{"t": "ET", "x": 5.654}, {"t": "2", "x": 7.69}]},
 "mark": {"type": "text", "align": "left", "baseline": "alphabetic", "font": "Open Sans", "fontSize": 13, "color": "#231f20"},
 "encoding": {"x": {"field": "x", "type": "quantitative", "axis": null}, "y": {"datum": 4.578, "type": "quantitative", "axis": null}, "text": {"field": "t"}}},
{"data": {"values": [{}]}, "mark": {"type": "rule", "color": "#111", "strokeWidth": 3.5},
 "encoding": {"y": {"datum": 4.178, "type": "quantitative", "axis": null}}},
{"data": {"values": [{}]}, "mark": {"type": "rule", "color": "#111", "strokeWidth": 3},
 "encoding": {"x": {"datum": -0.19, "type": "quantitative", "axis": null}, "y": {"datum": -13.2, "type": "quantitative", "axis": null}, "y2": {"datum": -15.2}}},
{"data": {"values": [{}]},
 "mark": {"type": "text", "align": "left", "baseline": "middle", "font": "Liberation Sans", "fontSize": 18, "color": "#231f20"},
 "encoding": {"x": {"datum": 0.126, "type": "quantitative", "axis": null}, "y": {"datum": -14.36, "type": "quantitative", "axis": null}, "text": {"value": "2 mmHg"}}}
]
},
{
"width": 106, "height": 457,
"layer": [
{"data": {"values": [{"t":"Red","y":-0.8},{"t":"Green","y":-11.7},{"t":"Blue","y":-21.25},{"t":"Yellow","y":-36.14}]},
 "mark": {"type": "text", "align": "left", "baseline": "alphabetic", "font": "Open Sans", "fontSize": 21, "color": "#231f20"},
 "encoding": {"x": {"datum": 0.173, "type": "quantitative", "scale": {"domain": [0, 1], "nice": false, "zero": false}, "axis": null},
  "y": {"field": "y", "type": "quantitative", "scale": {"domain": [-39.0909, 12.8409], "nice": false, "zero": false}, "axis": null},
  "text": {"field": "t"}}}
]
},
{
"width": 328, "height": 457,
"layer": [
{"data": {"values": [{}]}, "mark": {"type": "rect", "color": "#e3e3e3"},
 "encoding": {"x": {"datum": 3.5, "type": "quantitative", "scale": {"domain": [-0.3004, 13.777], "nice": false, "zero": false}, "axis": null}, "x2": {"datum": 7.5},
  "y": {"datum": 5.4, "type": "quantitative", "scale": {"domain": [-39.0909, 12.8409], "nice": false, "zero": false}, "axis": null}, "y2": {"datum": -39.0909}}},
{"data": {"name": "hr"}, "transform": [{"filter": "datum.s == 'Red'"}],
 "mark": {"type": "rule", "color": "#111", "strokeWidth": 1.2},
 "encoding": {"x": {"field": "tp", "type": "quantitative", "axis": null},
  "y": {"datum": -39.0909, "type": "quantitative", "axis": null}, "y2": {"datum": -38.52}}},
{"data": {"name": "hr"}, "transform": [{"filter": "datum.s == 'Red'"}],
 "mark": {"type": "text", "baseline": "middle", "align": "center", "font": "Liberation Sans Narrow, DejaVu Sans Condensed, Liberation Sans, sans-serif", "fontSize": 16, "color": "#231f20"},
 "encoding": {"x": {"field": "tp", "type": "quantitative", "axis": null},
  "y": {"datum": -40.8, "type": "quantitative", "axis": null}, "text": {"field": "tp", "type": "quantitative", "format": "d"}}},
{"data": {"values": [{}]},
 "mark": {"type": "text", "baseline": "middle", "align": "center", "font": "Liberation Sans Narrow, DejaVu Sans Condensed, Liberation Sans, sans-serif", "fontSize": 16, "color": "#231f20"},
 "encoding": {"x": {"datum": -0.27, "type": "quantitative", "axis": null}, "y": {"datum": -40.8, "type": "quantitative", "axis": null}, "text": {"value": "TP"}}},
{"data": {"values": [{}]}, "mark": {"type": "rule", "color": "#111", "strokeWidth": 1.5},
 "encoding": {"x": {"datum": -0.05, "type": "quantitative", "axis": null}, "x2": {"datum": 13.75}, "y": {"datum": -39.0909, "type": "quantitative", "axis": null}}},
{"data": {"values": [{"s":"Red"},{"s":"Green"},{"s":"Blue"},{"s":"Yellow"}]},
 "mark": {"type": "rule", "color": "#8c8c8c", "strokeWidth": 1.6, "yOffset": {"expr": "datum.s=='Green'?97.8:datum.s=='Blue'?182:datum.s=='Yellow'?310.5:0"}},
 "encoding": {"y": {"datum": 0, "type": "quantitative", "axis": null}}},
{"data": {"name": "hr"}, "transform": [{"filter": "datum.tp != 3"}],
 "mark": {"type": "rule", "strokeWidth": 1.2, "xOffset": {"expr": "datum.s=='Red'?-5.5:datum.s=='Green'?-0.5:datum.s=='Blue'?3:datum.s=='Yellow'?8:0"}, "yOffset": {"expr": "datum.s=='Green'?97.8:datum.s=='Blue'?182:datum.s=='Yellow'?310.5:0"}, "y2Offset": {"expr": "datum.s=='Green'?97.8:datum.s=='Blue'?182:datum.s=='Yellow'?310.5:0"}},
 "encoding": {"x": {"field": "tp", "type": "quantitative", "axis": null}, "y": {"field": "lo", "type": "quantitative", "axis": null}, "y2": {"field": "hi"},
  "color": {"field": "s", "type": "nominal", "scale": {"domain": ["Red","Green","Blue","Yellow"], "range": ["#e52421","#5fb12f","#2b4c9c","#f5b400"]}, "legend": null}}},
{"data": {"name": "hr"}, "transform": [{"filter": "datum.tp != 3"}],
 "mark": {"type": "tick", "orient": "horizontal", "size": 6, "thickness": 1.4, "xOffset": {"expr": "datum.s=='Red'?-5.5:datum.s=='Green'?-0.5:datum.s=='Blue'?3:datum.s=='Yellow'?8:0"}, "yOffset": {"expr": "datum.s=='Green'?97.8:datum.s=='Blue'?182:datum.s=='Yellow'?310.5:0"}},
 "encoding": {"x": {"field": "tp", "type": "quantitative", "axis": null}, "y": {"field": "lo", "type": "quantitative", "axis": null},
  "color": {"field": "s", "type": "nominal", "scale": {"domain": ["Red","Green","Blue","Yellow"], "range": ["#e52421","#5fb12f","#2b4c9c","#f5b400"]}, "legend": null}}},
{"data": {"name": "hr"}, "transform": [{"filter": "datum.tp != 3"}],
 "mark": {"type": "tick", "orient": "horizontal", "size": 6, "thickness": 1.4, "xOffset": {"expr": "datum.s=='Red'?-5.5:datum.s=='Green'?-0.5:datum.s=='Blue'?3:datum.s=='Yellow'?8:0"}, "yOffset": {"expr": "datum.s=='Green'?97.8:datum.s=='Blue'?182:datum.s=='Yellow'?310.5:0"}},
 "encoding": {"x": {"field": "tp", "type": "quantitative", "axis": null}, "y": {"field": "hi", "type": "quantitative", "axis": null},
  "color": {"field": "s", "type": "nominal", "scale": {"domain": ["Red","Green","Blue","Yellow"], "range": ["#e52421","#5fb12f","#2b4c9c","#f5b400"]}, "legend": null}}},
{"data": {"name": "hr"},
 "mark": {"type": "bar", "size": 4.5, "fill": "white", "strokeWidth": 1.3, "xOffset": {"expr": "datum.s=='Red'?-5.5:datum.s=='Green'?-0.5:datum.s=='Blue'?3:datum.s=='Yellow'?8:0"}, "yOffset": {"expr": "datum.s=='Green'?97.8:datum.s=='Blue'?182:datum.s=='Yellow'?310.5:0"}, "y2Offset": {"expr": "datum.s=='Green'?97.8:datum.s=='Blue'?182:datum.s=='Yellow'?310.5:0"}},
 "encoding": {"x": {"field": "tp", "type": "quantitative", "axis": null}, "y": {"field": "q1", "type": "quantitative", "axis": null}, "y2": {"field": "q3"},
  "stroke": {"field": "s", "type": "nominal", "scale": {"domain": ["Red","Green","Blue","Yellow"], "range": ["#e52421","#5fb12f","#2b4c9c","#f5b400"]}, "legend": null}}},
{"data": {"name": "hr"},
 "mark": {"type": "line", "strokeWidth": 4.3, "xOffset": {"expr": "datum.s=='Red'?-5.5:datum.s=='Green'?-0.5:datum.s=='Blue'?3:datum.s=='Yellow'?8:0"}, "yOffset": {"expr": "datum.s=='Green'?97.8:datum.s=='Blue'?182:datum.s=='Yellow'?310.5:0"}},
 "encoding": {"x": {"field": "tp", "type": "quantitative", "axis": null}, "y": {"field": "m", "type": "quantitative", "axis": null},
  "color": {"field": "s", "type": "nominal", "scale": {"domain": ["Red","Green","Blue","Yellow"], "range": ["#e52421","#5fb12f","#2b4c9c","#f5b400"]}, "legend": null}}},
{"data": {"name": "hrA"}, "transform": [{"filter": "datum.t != '‡'"}],
 "mark": {"type": "text", "font": "DejaVu Sans", "fontSize": 17, "baseline": "alphabetic", "dy": 9.5, "color": "#231f20", "xOffset": {"expr": "datum.s=='Red'?-5.5:datum.s=='Green'?-0.5:datum.s=='Blue'?3:datum.s=='Yellow'?8:0"}, "yOffset": {"expr": "datum.s=='Green'?97.8:datum.s=='Blue'?182:datum.s=='Yellow'?310.5:0"}},
 "encoding": {"x": {"field": "tp", "type": "quantitative", "axis": null}, "y": {"field": "y", "type": "quantitative", "axis": null}, "text": {"field": "t"}}},
{"data": {"name": "hrA"}, "transform": [{"filter": "datum.t == '‡'"}],
 "mark": {"type": "text", "font": "DejaVu Sans", "fontSize": 13, "baseline": "middle", "color": "#231f20", "xOffset": {"expr": "datum.s=='Red'?-5.5:datum.s=='Green'?-0.5:datum.s=='Blue'?3:datum.s=='Yellow'?8:0"}, "yOffset": {"expr": "datum.s=='Green'?97.8:datum.s=='Blue'?182:datum.s=='Yellow'?310.5:0"}},
 "encoding": {"x": {"field": "tp", "type": "quantitative", "axis": null}, "y": {"field": "y", "type": "quantitative", "axis": null}, "text": {"field": "t"}}},
{"data": {"values": [{}]},
 "mark": {"type": "text", "align": "left", "baseline": "alphabetic", "font": "Open Sans", "fontSize": 23, "color": "#231f20"},
 "encoding": {"x": {"datum": 0.93, "type": "quantitative", "axis": null}, "y": {"datum": 9.77, "type": "quantitative", "axis": null}, "text": {"value": "Heart rate"}}},
{"data": {"values": [{}]}, "mark": {"type": "rule", "color": "#111", "strokeWidth": 3.5},
 "encoding": {"y": {"datum": 7.955, "type": "quantitative", "axis": null}}},
{"data": {"values": [{}]}, "mark": {"type": "rule", "color": "#111", "strokeWidth": 3},
 "encoding": {"x": {"datum": 2.605, "type": "quantitative", "axis": null}, "y": {"datum": -24.85, "type": "quantitative", "axis": null}, "y2": {"datum": -29.85}}},
{"data": {"values": [{}]},
 "mark": {"type": "text", "align": "left", "baseline": "middle", "font": "Liberation Sans", "fontSize": 18, "color": "#231f20"},
 "encoding": {"x": {"datum": 2.93, "type": "quantitative", "axis": null}, "y": {"datum": -27.39, "type": "quantitative", "axis": null}, "text": {"value": "5 BPM"}}},
{"data": {"values": [{"t": "Baseline", "x": 1.37}, {"t": "Recovery", "x": 10.3}]},
 "mark": {"type": "text", "align": "center", "baseline": "middle", "font": "Liberation Sans Narrow, DejaVu Sans Condensed, Liberation Sans, sans-serif", "fontSize": 17, "color": "#231f20"},
 "encoding": {"x": {"field": "x", "type": "quantitative", "axis": null}, "y": {"datum": -43.98, "type": "quantitative", "axis": null}, "text": {"field": "t"}}},
{"data": {"values": [{"t": "Colored light\nstimulation", "x": 5.32}]},
 "mark": {"type": "text", "align": "center", "baseline": "middle", "lineBreak": "\n", "lineHeight": 19, "font": "Liberation Sans Narrow, DejaVu Sans Condensed, Liberation Sans, sans-serif", "fontSize": 17, "color": "#231f20"},
 "encoding": {"x": {"field": "x", "type": "quantitative", "axis": null}, "y": {"datum": -42.95, "type": "quantitative", "axis": null}, "text": {"field": "t"}}}
]
},
{
"width": 329, "height": 457,
"layer": [
{"data": {"values": [{}]}, "mark": {"type": "rect", "color": "#e3e3e3"},
 "encoding": {"x": {"datum": 3.5, "type": "quantitative", "scale": {"domain": [-0.5368, 13.7056], "nice": false, "zero": false}, "axis": null}, "x2": {"datum": 7.5},
  "y": {"datum": 131.9, "type": "quantitative", "scale": {"domain": [-955.556, 313.889], "nice": false, "zero": false}, "axis": null}, "y2": {"datum": -955.556}}},
{"data": {"name": "lf"}, "transform": [{"filter": "datum.s == 'Red'"}],
 "mark": {"type": "rule", "color": "#111", "strokeWidth": 1.2},
 "encoding": {"x": {"field": "tp", "type": "quantitative", "axis": null},
  "y": {"datum": -955.556, "type": "quantitative", "axis": null}, "y2": {"datum": -941.7}}},
{"data": {"name": "lf"}, "transform": [{"filter": "datum.s == 'Red'"}],
 "mark": {"type": "text", "baseline": "middle", "align": "center", "font": "Liberation Sans Narrow, DejaVu Sans Condensed, Liberation Sans, sans-serif", "fontSize": 16, "color": "#231f20"},
 "encoding": {"x": {"field": "tp", "type": "quantitative", "axis": null},
  "y": {"datum": -997.2, "type": "quantitative", "axis": null}, "text": {"field": "tp", "type": "quantitative", "format": "d"}}},
{"data": {"values": [{}]},
 "mark": {"type": "text", "baseline": "middle", "align": "center", "font": "Liberation Sans Narrow, DejaVu Sans Condensed, Liberation Sans, sans-serif", "fontSize": 16, "color": "#231f20"},
 "encoding": {"x": {"datum": -0.34, "type": "quantitative", "axis": null}, "y": {"datum": -997.2, "type": "quantitative", "axis": null}, "text": {"value": "TP"}}},
{"data": {"values": [{}]}, "mark": {"type": "rule", "color": "#111", "strokeWidth": 1.5},
 "encoding": {"x": {"datum": -0.02, "type": "quantitative", "axis": null}, "x2": {"datum": 13.7}, "y": {"datum": -955.556, "type": "quantitative", "axis": null}}},
{"data": {"values": [{"s":"Red"},{"s":"Green"},{"s":"Blue"},{"s":"Yellow"}]},
 "mark": {"type": "rule", "color": "#8c8c8c", "strokeWidth": 1.6, "yOffset": {"expr": "datum.s=='Green'?97.8:datum.s=='Blue'?182:datum.s=='Yellow'?310.5:0"}},
 "encoding": {"y": {"datum": 0, "type": "quantitative", "axis": null}}},
{"data": {"name": "lf"}, "transform": [{"filter": "datum.tp != 3"}],
 "mark": {"type": "rule", "strokeWidth": 1.2, "xOffset": {"expr": "datum.s=='Red'?-5.5:datum.s=='Green'?-0.5:datum.s=='Blue'?3:datum.s=='Yellow'?8:0"}, "yOffset": {"expr": "datum.s=='Green'?97.8:datum.s=='Blue'?182:datum.s=='Yellow'?310.5:0"}, "y2Offset": {"expr": "datum.s=='Green'?97.8:datum.s=='Blue'?182:datum.s=='Yellow'?310.5:0"}},
 "encoding": {"x": {"field": "tp", "type": "quantitative", "axis": null}, "y": {"field": "lo", "type": "quantitative", "axis": null}, "y2": {"field": "hi"},
  "color": {"field": "s", "type": "nominal", "scale": {"domain": ["Red","Green","Blue","Yellow"], "range": ["#e52421","#5fb12f","#2b4c9c","#f5b400"]}, "legend": null}}},
{"data": {"name": "lf"}, "transform": [{"filter": "datum.tp != 3"}],
 "mark": {"type": "tick", "orient": "horizontal", "size": 6, "thickness": 1.4, "xOffset": {"expr": "datum.s=='Red'?-5.5:datum.s=='Green'?-0.5:datum.s=='Blue'?3:datum.s=='Yellow'?8:0"}, "yOffset": {"expr": "datum.s=='Green'?97.8:datum.s=='Blue'?182:datum.s=='Yellow'?310.5:0"}},
 "encoding": {"x": {"field": "tp", "type": "quantitative", "axis": null}, "y": {"field": "lo", "type": "quantitative", "axis": null},
  "color": {"field": "s", "type": "nominal", "scale": {"domain": ["Red","Green","Blue","Yellow"], "range": ["#e52421","#5fb12f","#2b4c9c","#f5b400"]}, "legend": null}}},
{"data": {"name": "lf"}, "transform": [{"filter": "datum.tp != 3"}],
 "mark": {"type": "tick", "orient": "horizontal", "size": 6, "thickness": 1.4, "xOffset": {"expr": "datum.s=='Red'?-5.5:datum.s=='Green'?-0.5:datum.s=='Blue'?3:datum.s=='Yellow'?8:0"}, "yOffset": {"expr": "datum.s=='Green'?97.8:datum.s=='Blue'?182:datum.s=='Yellow'?310.5:0"}},
 "encoding": {"x": {"field": "tp", "type": "quantitative", "axis": null}, "y": {"field": "hi", "type": "quantitative", "axis": null},
  "color": {"field": "s", "type": "nominal", "scale": {"domain": ["Red","Green","Blue","Yellow"], "range": ["#e52421","#5fb12f","#2b4c9c","#f5b400"]}, "legend": null}}},
{"data": {"name": "lf"},
 "mark": {"type": "bar", "size": 4.5, "fill": "white", "strokeWidth": 1.3, "xOffset": {"expr": "datum.s=='Red'?-5.5:datum.s=='Green'?-0.5:datum.s=='Blue'?3:datum.s=='Yellow'?8:0"}, "yOffset": {"expr": "datum.s=='Green'?97.8:datum.s=='Blue'?182:datum.s=='Yellow'?310.5:0"}, "y2Offset": {"expr": "datum.s=='Green'?97.8:datum.s=='Blue'?182:datum.s=='Yellow'?310.5:0"}},
 "encoding": {"x": {"field": "tp", "type": "quantitative", "axis": null}, "y": {"field": "q1", "type": "quantitative", "axis": null}, "y2": {"field": "q3"},
  "stroke": {"field": "s", "type": "nominal", "scale": {"domain": ["Red","Green","Blue","Yellow"], "range": ["#e52421","#5fb12f","#2b4c9c","#f5b400"]}, "legend": null}}},
{"data": {"name": "lf"},
 "mark": {"type": "line", "strokeWidth": 4.3, "xOffset": {"expr": "datum.s=='Red'?-5.5:datum.s=='Green'?-0.5:datum.s=='Blue'?3:datum.s=='Yellow'?8:0"}, "yOffset": {"expr": "datum.s=='Green'?97.8:datum.s=='Blue'?182:datum.s=='Yellow'?310.5:0"}},
 "encoding": {"x": {"field": "tp", "type": "quantitative", "axis": null}, "y": {"field": "m", "type": "quantitative", "axis": null},
  "color": {"field": "s", "type": "nominal", "scale": {"domain": ["Red","Green","Blue","Yellow"], "range": ["#e52421","#5fb12f","#2b4c9c","#f5b400"]}, "legend": null}}},
{"data": {"name": "lfA"}, "transform": [{"filter": "datum.t != '‡'"}],
 "mark": {"type": "text", "font": "DejaVu Sans", "fontSize": 17, "baseline": "alphabetic", "dy": 9.5, "color": "#231f20", "xOffset": {"expr": "datum.s=='Red'?-5.5:datum.s=='Green'?-0.5:datum.s=='Blue'?3:datum.s=='Yellow'?8:0"}, "yOffset": {"expr": "datum.s=='Green'?97.8:datum.s=='Blue'?182:datum.s=='Yellow'?310.5:0"}},
 "encoding": {"x": {"field": "tp", "type": "quantitative", "axis": null}, "y": {"field": "y", "type": "quantitative", "axis": null}, "text": {"field": "t"}}},
{"data": {"name": "lfA"}, "transform": [{"filter": "datum.t == '‡'"}],
 "mark": {"type": "text", "font": "DejaVu Sans", "fontSize": 13, "baseline": "middle", "color": "#231f20", "xOffset": {"expr": "datum.s=='Red'?-5.5:datum.s=='Green'?-0.5:datum.s=='Blue'?3:datum.s=='Yellow'?8:0"}, "yOffset": {"expr": "datum.s=='Green'?97.8:datum.s=='Blue'?182:datum.s=='Yellow'?310.5:0"}},
 "encoding": {"x": {"field": "tp", "type": "quantitative", "axis": null}, "y": {"field": "y", "type": "quantitative", "axis": null}, "text": {"field": "t"}}},
{"data": {"values": [{}]},
 "mark": {"type": "text", "align": "left", "baseline": "alphabetic", "font": "Open Sans", "fontSize": 23, "color": "#231f20"},
 "encoding": {"x": {"datum": 0.85, "type": "quantitative", "axis": null}, "y": {"datum": 238.9, "type": "quantitative", "axis": null}, "text": {"value": "LF/HF"}}},
{"data": {"values": [{}]}, "mark": {"type": "rule", "color": "#111", "strokeWidth": 3.5},
 "encoding": {"y": {"datum": 194.4, "type": "quantitative", "axis": null}}},
{"data": {"values": [{}]}, "mark": {"type": "rule", "color": "#111", "strokeWidth": 3},
 "encoding": {"x": {"datum": -0.16, "type": "quantitative", "axis": null}, "y": {"datum": -663, "type": "quantitative", "axis": null}, "y2": {"datum": -755.6}}},
{"data": {"values": [{}]},
 "mark": {"type": "text", "align": "left", "baseline": "middle", "font": "Liberation Sans", "fontSize": 18, "color": "#231f20"},
 "encoding": {"x": {"datum": 0.199, "type": "quantitative", "axis": null}, "y": {"datum": -713.9, "type": "quantitative", "axis": null}, "text": {"value": "1 %"}}},
{"data": {"values": [{}]}, "mark": {"type": "rule", "color": "#111", "strokeWidth": 3},
 "encoding": {"x": {"datum": 12.9, "type": "quantitative", "axis": null}, "y": {"datum": -595.3, "type": "quantitative", "axis": null}, "y2": {"datum": -695.3}}},
{"data": {"values": [{}]},
 "mark": {"type": "text", "align": "center", "baseline": "middle", "lineBreak": "\n", "lineHeight": 21, "font": "Liberation Sans", "fontSize": 18, "color": "#231f20"},
 "encoding": {"x": {"datum": 10.45, "type": "quantitative", "axis": null}, "y": {"datum": -621.4, "type": "quantitative", "axis": null}, "text": {"value": "100 %\nchange"}}},
{"data": {"values": [{"t": "Baseline", "x": 1.41}, {"t": "Recovery", "x": 9.9}]},
 "mark": {"type": "text", "align": "center", "baseline": "middle", "font": "Liberation Sans Narrow, DejaVu Sans Condensed, Liberation Sans, sans-serif", "fontSize": 17, "color": "#231f20"},
 "encoding": {"x": {"field": "x", "type": "quantitative", "axis": null}, "y": {"datum": -1075, "type": "quantitative", "axis": null}, "text": {"field": "t"}}},
{"data": {"values": [{"t": "Colored light\nstimulation", "x": 5.31}]},
 "mark": {"type": "text", "align": "center", "baseline": "middle", "lineBreak": "\n", "lineHeight": 19, "font": "Liberation Sans Narrow, DejaVu Sans Condensed, Liberation Sans, sans-serif", "fontSize": 17, "color": "#231f20"},
 "encoding": {"x": {"field": "x", "type": "quantitative", "axis": null}, "y": {"datum": -1050, "type": "quantitative", "axis": null}, "text": {"field": "t"}}}
]
}
]
}
